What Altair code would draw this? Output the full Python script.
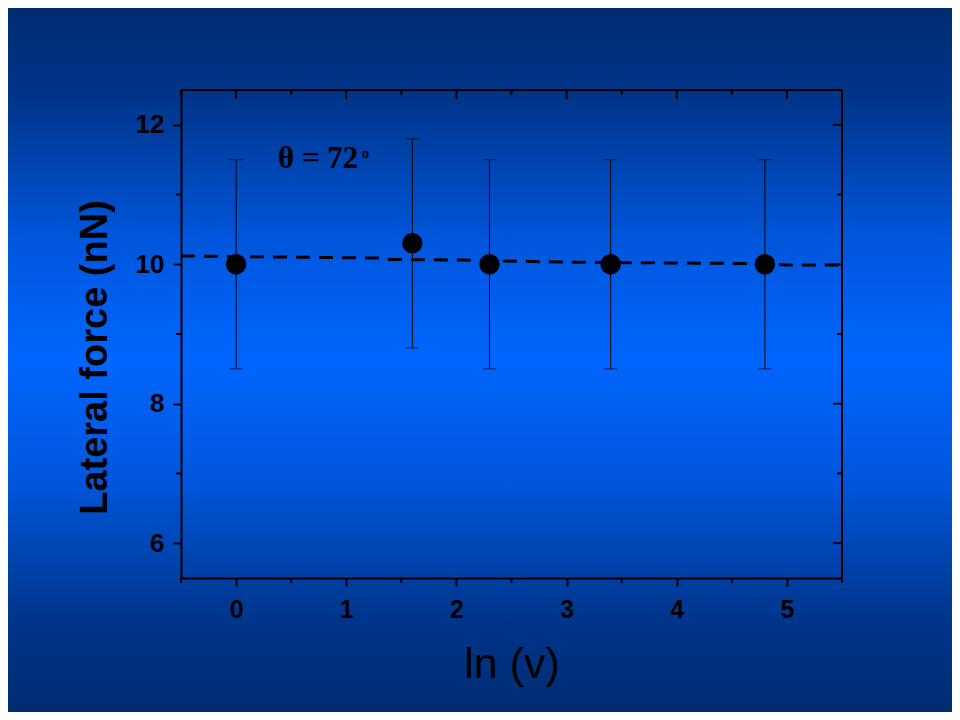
import altair as alt
import pandas as pd

# data
ln_v = [0.0, 1.6, 2.3, 3.4, 4.8]
force = [10.0, 10.3, 10.0, 10.0, 10.0]
err_lo = [8.5, 8.8, 8.5, 8.5, 8.5]
err_hi = [11.5, 11.8, 11.5, 11.5, 11.5]

fit_x = [-0.5, 1.28, 1.35, 2.07, 3.0, 4.75, 5.0, 5.5]
fit_y = [10.12, 10.09, 10.07, 10.06, 10.03, 10.01, 9.99, 9.99]

x_major = [0, 1, 2, 3, 4, 5]
x_minor = [-0.5, 0.5, 1.5, 2.5, 3.5, 4.5, 5.5]
y_major = [6, 8, 10, 12]
y_minor = [7, 9, 11]

W, H = 661, 488
PAD_L, PAD_T = 173, 82
TOT_W, TOT_H = 944, 704

pts = pd.DataFrame({"x": ln_v, "y": force, "lo": err_lo, "hi": err_hi})
fit = pd.DataFrame({"x": fit_x, "y": fit_y})

xs = alt.Scale(domain=[-0.5, 5.5], nice=False, zero=False)
ys = alt.Scale(domain=[5.5, 12.5], nice=False, zero=False)

sans = "Liberation Sans Narrow, Arial Narrow, Liberation Sans"

one = pd.DataFrame({"a": [0]})

bg = alt.Chart(one).mark_rect(
    fill=alt.LinearGradient(
        gradient="linear", x1=0, x2=0, y1=0, y2=1,
        stops=[
            alt.GradientStop(offset=0.0, color="#002c72"),
            alt.GradientStop(offset=0.13, color="#00358b"),
            alt.GradientStop(offset=0.33, color="#0056dc"),
            alt.GradientStop(offset=0.5, color="#0066ff"),
            alt.GradientStop(offset=0.67, color="#0056dc"),
            alt.GradientStop(offset=0.87, color="#00358b"),
            alt.GradientStop(offset=1.0, color="#002c72"),
        ],
    )
).encode(
    x=alt.value(-PAD_L), x2=alt.value(TOT_W - PAD_L),
    y=alt.value(-PAD_T), y2=alt.value(TOT_H - PAD_T),
)

xaxis = alt.Axis(
    values=x_major, title="ln (v)", labelFont=sans, labelFontSize=25,
    labelFontWeight="bold", labelColor="black", labelPadding=11,
    tickSize=8, tickWidth=2, tickColor="black", domainColor="black",
    domainWidth=2, grid=False, titleFont=sans, titleFontSize=43,
    titleFontWeight="normal", titleColor="black", titleY=86,
    titleBaseline="middle", format="d", zindex=1,
)
yaxis = alt.Axis(
    values=y_major, title="Lateral force (nN)", labelFont="Liberation Sans",
    labelFontSize=26, labelFontWeight="bold", labelColor="black",
    labelPadding=9, tickSize=8, tickWidth=2, tickColor="black",
    domainColor="black", domainWidth=2, grid=False, format="d",
    titleFont="Liberation Sans", titleFontSize=38, titleFontWeight="bold",
    titleColor="black", titleX=-86, titleY=267, titleAngle=270,
    titleAlign="center", titleBaseline="middle", zindex=1,
)

line = alt.Chart(fit).mark_line(
    color="black", strokeDash=[14, 9], strokeWidth=3
).encode(
    x=alt.X("x:Q", scale=xs, axis=xaxis),
    y=alt.Y("y:Q", scale=ys, axis=yaxis),
)

bars = alt.Chart(pts).mark_rule(color="black", strokeWidth=1).encode(
    x=alt.X("x:Q", scale=xs),
    y=alt.Y("lo:Q", scale=ys),
    y2="hi:Q",
)
cap_lo = alt.Chart(pts).mark_tick(
    color="black", orient="horizontal", size=13, thickness=1
).encode(
    x=alt.X("x:Q", scale=xs),
    y=alt.Y("lo:Q", scale=ys),
)
cap_hi = alt.Chart(pts).mark_tick(
    color="black", orient="horizontal", size=13, thickness=1
).encode(
    x=alt.X("x:Q", scale=xs),
    y=alt.Y("hi:Q", scale=ys),
)
dots = alt.Chart(pts).mark_circle(color="black", opacity=1, size=420).encode(
    x=alt.X("x:Q", scale=xs),
    y=alt.Y("y:Q", scale=ys),
)

frame_top = alt.Chart(one).mark_rule(color="black", strokeWidth=2).encode(
    x=alt.value(0), x2=alt.value(W), y=alt.value(0)
)
frame_right = alt.Chart(one).mark_rule(color="black", strokeWidth=2).encode(
    x=alt.value(W), y=alt.value(0), y2=alt.value(H)
)

xmaj = pd.DataFrame({"t": x_major})
xmin = pd.DataFrame({"t": x_minor})
ymaj = pd.DataFrame({"t": y_major})
ymin = pd.DataFrame({"t": y_minor})

def xt(df, y1, y2):
    return alt.Chart(df).mark_rule(color="black", strokeWidth=2).encode(
        x=alt.X("t:Q", scale=xs), y=alt.value(y1), y2=alt.value(y2)
    )

def yt(df, x1, x2):
    return alt.Chart(df).mark_rule(color="black", strokeWidth=2).encode(
        y=alt.Y("t:Q", scale=ys), x=alt.value(x1), x2=alt.value(x2)
    )

frame_ticks = [
    xt(xmaj, 0, 9), xt(xmin, 0, 5), xt(xmin, H, H + 5),
    yt(ymaj, W, W - 9), yt(ymin, W, W - 5), yt(ymin, 0, -5),
]

label = alt.Chart(pd.DataFrame({"x": [0.38], "y": [11.51], "s": ["θ = 72"]})).mark_text(
    font="Liberation Serif", fontSize=31, fontWeight="bold", color="black",
    align="left", baseline="middle",
).encode(x=alt.X("x:Q", scale=xs), y=alt.Y("y:Q", scale=ys), text="s:N")

sup = alt.Chart(pd.DataFrame({"x": [1.14], "y": [11.59], "s": ["o"]})).mark_text(
    font="Liberation Serif", fontSize=15, fontWeight="bold", color="black",
    align="left", baseline="middle",
).encode(x=alt.X("x:Q", scale=xs), y=alt.Y("y:Q", scale=ys), text="s:N")

chart = alt.layer(
    bg, line, bars, cap_lo, cap_hi, dots, frame_top, frame_right,
    *frame_ticks, label, sup
).properties(
    width=W, height=H,
    autosize=alt.AutoSizeParams(type="none"),
    padding={"left": PAD_L, "top": PAD_T, "right": TOT_W - PAD_L - W, "bottom": TOT_H - PAD_T - H},
    background="#002c72",
).configure_view(
    stroke=None, fill=None
)

chart.save("out.html", embed_options={"renderer": "svg", "actions": False})
